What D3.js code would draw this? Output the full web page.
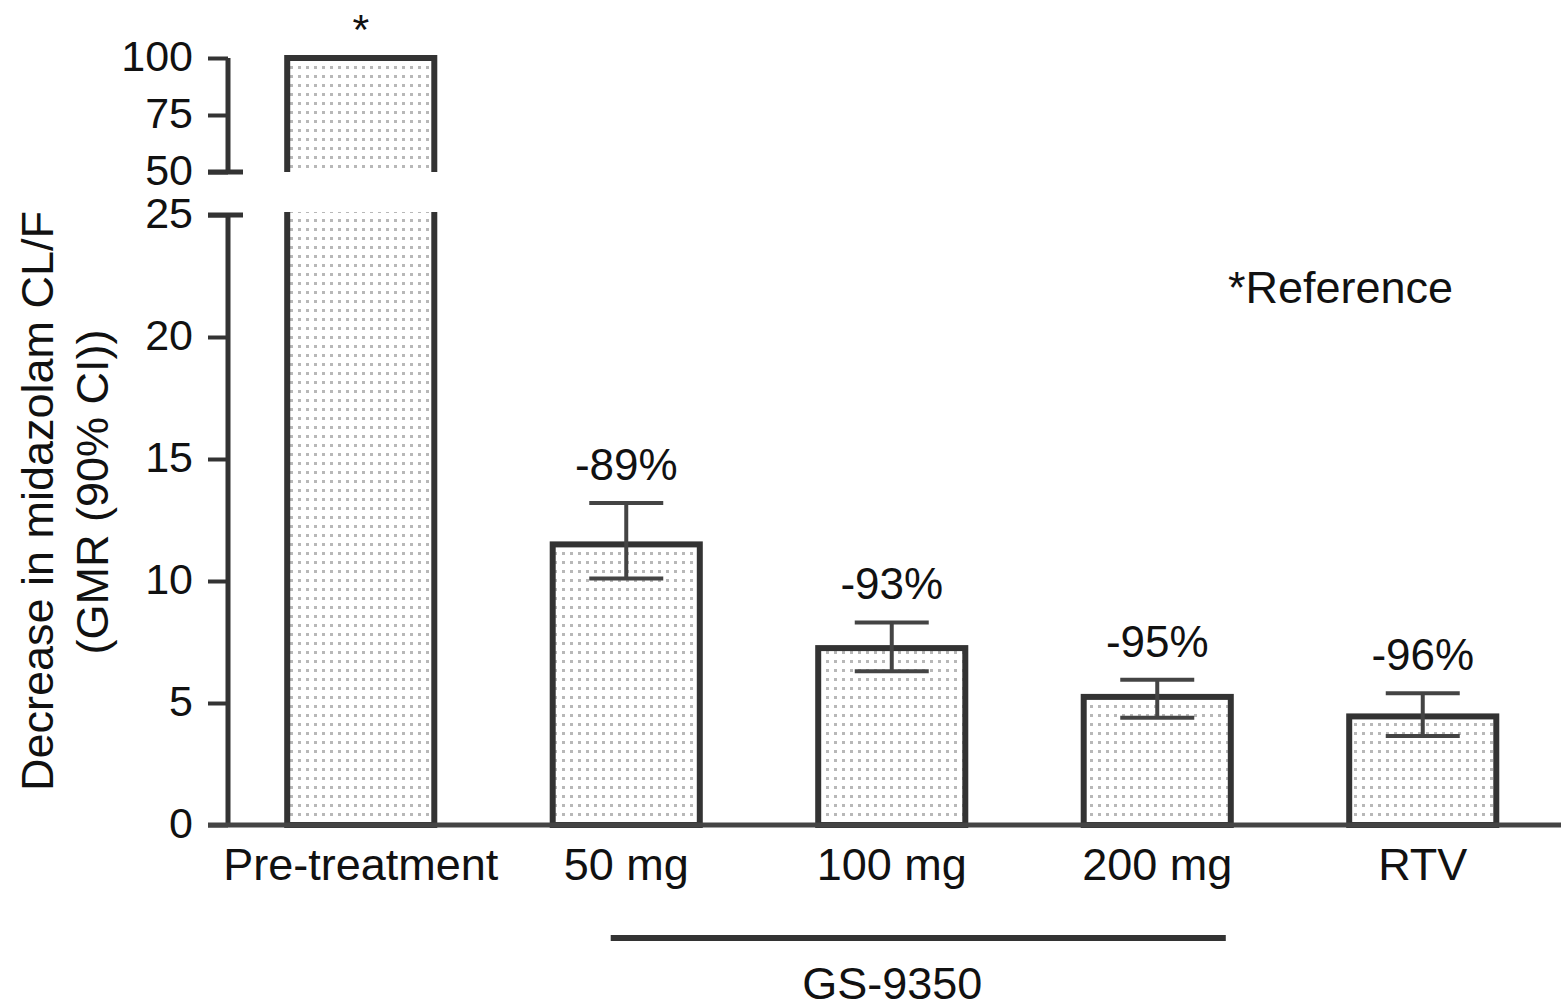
<!DOCTYPE html>
<html>
<head>
<meta charset="utf-8">
<script src="https://cdn.jsdelivr.net/npm/d3@7"></script>
<style>
  html, body { margin: 0; padding: 0; background: #fff; }
  text { font-family: "Liberation Sans", Arial, sans-serif; fill: #111; }
</style>
</head>
<body>
<div id="chart"></div>
<script>
// data
const categories = ['Pre-treatment', '50 mg', '100 mg', '200 mg', 'RTV'];
const gmr = [100, 11.5, 7.25, 5.25, 4.45];
const ciLow = [null, 10.1, 6.3, 4.4, 3.65];
const ciHigh = [null, 13.2, 8.3, 5.95, 5.4];
const changeLabels = ['', '-89%', '-93%', '-95%', '-96%'];
const lowerTicks = [0, 5, 10, 15, 20, 25];
const upperTicks = [50, 75, 100];
const groupedCats = ['50 mg', '200 mg'];   // GS-9350 bracket spans these

// svg setup
let svgWidth = 1561;
let svgHeight = 1002;
let axisX = 228;
let dark = '#333';

let svg = d3.select('#chart')
  .append('svg')
  .attr('width', svgWidth)
  .attr('height', svgHeight);

// dotted fill pattern
let pattern = svg.append('defs')
  .append('pattern')
  .attr('id', 'dots')
  .attr('patternUnits', 'userSpaceOnUse')
  .attr('width', 8)
  .attr('height', 9);
pattern.append('rect').attr('width', 8).attr('height', 9).attr('fill', '#fff');
pattern.append('rect').attr('x', 2).attr('y', 3).attr('width', 3).attr('height', 3).attr('fill', '#b8b8b8');

// scales: broken y axis -> two linear pieces
let yLow = d3.scaleLinear().domain([0, 25]).range([825, 215]);
let yHigh = d3.scaleLinear().domain([50, 100]).range([172, 58]);

let x = d3.scaleBand()
  .domain(categories)
  .range([axisX, axisX + 5 * 265.5])
  .paddingInner(0.446)
  .paddingOuter(0.223);

// y axes
function styleAxis(g) {
  g.select('.domain').remove();
  g.selectAll('.tick line').attr('stroke', dark).attr('stroke-width', 4);
  g.selectAll('.tick text')
    .style('font-size', '43px')
    .attr('fill', '#111')
    .attr('dy', '0.3em');
}

let lowAxis = svg.append('g')
  .attr('transform', `translate(${axisX}, 0)`)
  .call(d3.axisLeft(yLow).tickValues(lowerTicks).tickSizeInner(20).tickSizeOuter(0).tickPadding(15))
  .call(styleAxis);

let highAxis = svg.append('g')
  .attr('transform', `translate(${axisX}, 0)`)
  .call(d3.axisLeft(yHigh).tickValues(upperTicks).tickSizeInner(20).tickSizeOuter(0).tickPadding(15))
  .call(styleAxis);

// axis spines with small bracket ends at the break
svg.append('line')
  .attr('x1', axisX).attr('x2', axisX)
  .attr('y1', yLow(25)).attr('y2', yLow(0))
  .attr('stroke', dark).attr('stroke-width', 5);
svg.append('line')
  .attr('x1', axisX).attr('x2', axisX)
  .attr('y1', yHigh(100)).attr('y2', yHigh(50))
  .attr('stroke', dark).attr('stroke-width', 5);
svg.append('line')
  .attr('x1', axisX - 20).attr('x2', axisX + 15)
  .attr('y1', yLow(25)).attr('y2', yLow(25))
  .attr('stroke', dark).attr('stroke-width', 5);
svg.append('line')
  .attr('x1', axisX - 20).attr('x2', axisX + 15)
  .attr('y1', yHigh(50)).attr('y2', yHigh(50))
  .attr('stroke', dark).attr('stroke-width', 5);

// bars
categories.forEach(function (cat, i) {
  let x0 = x(cat);
  let x1 = x0 + x.bandwidth();
  let v = gmr[i];

  if (v > 25) {
    // broken bar: lower part open at top, upper part open at bottom
    let lowTop = yLow(25) - 3;
    let highBottom = yHigh(50);
    svg.append('rect')
      .attr('x', x0).attr('y', lowTop)
      .attr('width', x.bandwidth()).attr('height', yLow(0) - lowTop)
      .attr('fill', 'url(#dots)');
    svg.append('path')
      .attr('d', `M${x0},${lowTop}V${yLow(0)}H${x1}V${lowTop}`)
      .attr('fill', 'none').attr('stroke', dark).attr('stroke-width', 6);
    svg.append('rect')
      .attr('x', x0).attr('y', yHigh(v))
      .attr('width', x.bandwidth()).attr('height', highBottom - yHigh(v))
      .attr('fill', 'url(#dots)');
    svg.append('path')
      .attr('d', `M${x0},${highBottom}V${yHigh(v)}H${x1}V${highBottom}`)
      .attr('fill', 'none').attr('stroke', dark).attr('stroke-width', 6);
  } else {
    svg.append('rect')
      .attr('x', x0).attr('y', yLow(v))
      .attr('width', x.bandwidth()).attr('height', yLow(0) - yLow(v))
      .attr('fill', 'url(#dots)')
      .attr('stroke', dark).attr('stroke-width', 6);
  }
});

// error bars
let capHalf = 37;
categories.forEach(function (cat, i) {
  if (ciLow[i] === null) return;
  let cx = x(cat) + x.bandwidth() / 2;
  let g = svg.append('g').attr('stroke', '#444').attr('stroke-width', 4);
  g.append('line').attr('x1', cx).attr('x2', cx).attr('y1', yLow(ciHigh[i])).attr('y2', yLow(ciLow[i]));
  g.append('line').attr('x1', cx - capHalf).attr('x2', cx + capHalf).attr('y1', yLow(ciHigh[i])).attr('y2', yLow(ciHigh[i]));
  g.append('line').attr('x1', cx - capHalf).attr('x2', cx + capHalf).attr('y1', yLow(ciLow[i])).attr('y2', yLow(ciLow[i]));

  svg.append('text')
    .attr('x', cx)
    .attr('y', yLow(ciHigh[i]) - 23)
    .attr('text-anchor', 'middle')
    .style('font-size', '44px')
    .text(changeLabels[i]);
});

// x axis line
svg.append('line')
  .attr('x1', axisX - 20).attr('x2', svgWidth)
  .attr('y1', yLow(0)).attr('y2', yLow(0))
  .attr('stroke', '#444').attr('stroke-width', 5);

// category labels
svg.selectAll('.catLabel')
  .data(categories)
  .enter()
  .append('text')
  .classed('catLabel', true)
  .attr('x', d => x(d) + x.bandwidth() / 2)
  .attr('y', 880)
  .attr('text-anchor', 'middle')
  .style('font-size', '45px')
  .text(d => d);

// reference star
svg.append('text')
  .attr('x', x(categories[0]) + x.bandwidth() / 2)
  .attr('y', 44)
  .attr('text-anchor', 'middle')
  .style('font-size', '43px')
  .text('*');

svg.append('text')
  .attr('x', 1228)
  .attr('y', 303)
  .style('font-size', '45px')
  .text('*Reference');

// GS-9350 bracket
let bx0 = x(groupedCats[0]) + 58;
let bx1 = x(groupedCats[1]) + x.bandwidth() - 5;
svg.append('line')
  .attr('x1', bx0).attr('x2', bx1)
  .attr('y1', 938).attr('y2', 938)
  .attr('stroke', dark).attr('stroke-width', 6);
svg.append('text')
  .attr('x', (bx0 + bx1) / 2 - 26)
  .attr('y', 999)
  .attr('text-anchor', 'middle')
  .style('font-size', '45px')
  .text('GS-9350');

// y title
let title = svg.append('g');
title.append('text')
  .attr('transform', 'translate(53, 501) rotate(-90)')
  .attr('text-anchor', 'middle')
  .style('font-size', '45px')
  .text('Decrease in midazolam CL/F');
title.append('text')
  .attr('transform', 'translate(108, 492) rotate(-90)')
  .attr('text-anchor', 'middle')
  .style('font-size', '45px')
  .text('(GMR (90% CI))');
</script>
</body>
</html>
